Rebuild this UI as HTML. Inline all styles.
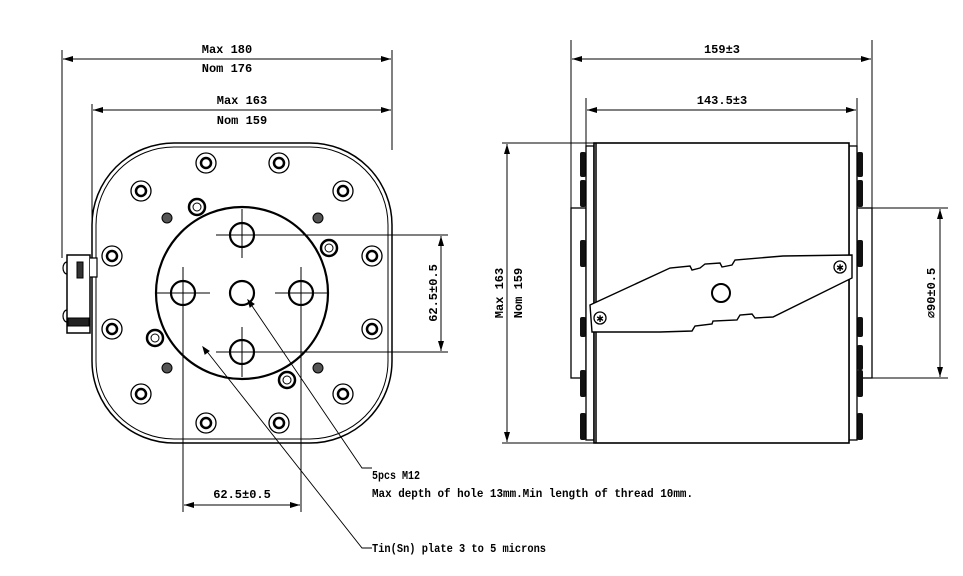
<!DOCTYPE html>
<html><head><meta charset="utf-8"><style>
html,body{margin:0;padding:0;background:#fff;}
svg{display:block;}
text{font-family:"Liberation Mono",monospace;font-size:12px;font-weight:bold;fill:#000;}
</style></head><body>
<svg width="963" height="576" viewBox="0 0 963 576" xmlns="http://www.w3.org/2000/svg">
<defs>
<marker id="a" viewBox="0 0 10 6" refX="10" refY="3" markerWidth="10" markerHeight="6" orient="auto-start-reverse" markerUnits="userSpaceOnUse"><path d="M0,0L10,3L0,6z" fill="#000"/></marker>
</defs>
<g stroke="#000" fill="none" stroke-width="1">
<line x1="62" y1="50" x2="62" y2="258"/>
<line x1="392" y1="50" x2="392" y2="150"/>
<line x1="63" y1="59" x2="391" y2="59" marker-start="url(#a)" marker-end="url(#a)"/>
<line x1="92" y1="104" x2="92" y2="255"/>
<line x1="93" y1="110" x2="391" y2="110" marker-start="url(#a)" marker-end="url(#a)"/>
<line x1="392" y1="104" x2="392" y2="110"/>
<line x1="216" y1="235" x2="448" y2="235"/>
<line x1="216" y1="352" x2="448" y2="352"/>
<line x1="441" y1="236" x2="441" y2="351" marker-start="url(#a)" marker-end="url(#a)"/>
<line x1="183" y1="267" x2="183" y2="512"/>
<line x1="301" y1="267" x2="301" y2="512"/>
<line x1="184" y1="505" x2="300" y2="505" marker-start="url(#a)" marker-end="url(#a)"/>
<line x1="242" y1="209" x2="242" y2="258"/>
<line x1="242" y1="327" x2="242" y2="377"/>
<line x1="155" y1="293" x2="210" y2="293"/>
<line x1="275" y1="293" x2="327" y2="293"/>
<rect x="92" y="143" width="300" height="300" rx="82" stroke-width="1.5"/>
<rect x="96" y="147" width="292" height="292" rx="78"/>
<circle cx="242" cy="293" r="86" stroke-width="2.2"/>
<g stroke-width="2.2">
<circle cx="242" cy="293" r="12"/><circle cx="242" cy="235" r="12"/><circle cx="242" cy="352" r="12"/><circle cx="183" cy="293" r="12"/><circle cx="301" cy="293" r="12"/>
</g>
<g stroke-width="1.3">
<circle cx="206" cy="163" r="10"/><circle cx="279" cy="163" r="10"/><circle cx="141" cy="191" r="10"/><circle cx="343" cy="191" r="10"/>
<circle cx="112" cy="256" r="10"/><circle cx="372" cy="256" r="10"/><circle cx="112" cy="329" r="10"/><circle cx="372" cy="329" r="10"/>
<circle cx="141" cy="394" r="10"/><circle cx="343" cy="394" r="10"/><circle cx="206" cy="423" r="10"/><circle cx="279" cy="423" r="10"/>
</g>
<g stroke-width="2.5">
<circle cx="206" cy="163" r="5"/><circle cx="279" cy="163" r="5"/><circle cx="141" cy="191" r="5"/><circle cx="343" cy="191" r="5"/>
<circle cx="112" cy="256" r="5"/><circle cx="372" cy="256" r="5"/><circle cx="112" cy="329" r="5"/><circle cx="372" cy="329" r="5"/>
<circle cx="141" cy="394" r="5"/><circle cx="343" cy="394" r="5"/><circle cx="206" cy="423" r="5"/><circle cx="279" cy="423" r="5"/>
</g>
<g stroke-width="2.5">
<circle cx="197" cy="207" r="8"/><circle cx="329" cy="248" r="8"/><circle cx="155" cy="338" r="8"/><circle cx="287" cy="380" r="8"/>
</g>
<g stroke-width="1">
<circle cx="197" cy="207" r="4"/><circle cx="329" cy="248" r="4"/><circle cx="155" cy="338" r="4"/><circle cx="287" cy="380" r="4"/>
</g>
<g fill="#555" stroke-width="1">
<circle cx="167" cy="218" r="5"/><circle cx="318" cy="218" r="5"/><circle cx="167" cy="368" r="5"/><circle cx="318" cy="368" r="5"/>
</g>
<rect x="67" y="255" width="23" height="78" fill="#fff" stroke-width="1.5"/>
<path d="M90 258 H97 V277 H90" stroke-width="1.2" fill="#fff"/>
<rect x="77" y="262" width="6" height="16" fill="#333"/>
<path d="M67 262 a4 6 0 0 0 0 12 M67 310 a4 6 0 0 0 0 12" stroke-width="1.2"/>
<rect x="68" y="318" width="21" height="8" fill="#222"/>
<path d="M248 300 L362 468 H372" stroke-width="0.9"/>
<path d="M248 300 l2 7 l4 -3z" fill="#000"/>
<path d="M205 349 L362 548 H372" stroke-width="0.9"/>
<path d="M203 347 l2 7 l4 -3z" fill="#000"/>

<line x1="571" y1="40" x2="571" y2="208"/>
<line x1="872" y1="40" x2="872" y2="208"/>
<line x1="572" y1="59" x2="871" y2="59" marker-start="url(#a)" marker-end="url(#a)"/>
<line x1="586" y1="98" x2="586" y2="147"/>
<line x1="857" y1="98" x2="857" y2="147"/>
<line x1="587" y1="110" x2="856" y2="110" marker-start="url(#a)" marker-end="url(#a)"/>
<line x1="502" y1="143" x2="594" y2="143"/>
<line x1="502" y1="443" x2="594" y2="443"/>
<line x1="507" y1="144" x2="507" y2="442" marker-start="url(#a)" marker-end="url(#a)"/>
<line x1="872" y1="208" x2="948" y2="208"/>
<line x1="872" y1="378" x2="948" y2="378"/>
<line x1="940" y1="209" x2="940" y2="377" marker-start="url(#a)" marker-end="url(#a)"/>
<rect x="571" y="208" width="15" height="170" stroke-width="1.3"/>
<rect x="857" y="208" width="15" height="170" stroke-width="1.3"/>
<g fill="#111" stroke="none">
<rect x="580" y="152" width="6" height="25" rx="2"/><rect x="580" y="180" width="6" height="27" rx="2"/><rect x="580" y="240" width="6" height="27" rx="2"/><rect x="580" y="317" width="6" height="20" rx="2"/><rect x="580" y="370" width="6" height="27" rx="2"/><rect x="580" y="413" width="6" height="27" rx="2"/>
<rect x="857" y="152" width="6" height="25" rx="2"/><rect x="857" y="180" width="6" height="27" rx="2"/><rect x="857" y="240" width="6" height="27" rx="2"/><rect x="857" y="317" width="6" height="20" rx="2"/><rect x="857" y="345" width="6" height="25" rx="2"/><rect x="857" y="370" width="6" height="27" rx="2"/><rect x="857" y="413" width="6" height="27" rx="2"/>
</g>
<rect x="586" y="146" width="8" height="294" stroke-width="1.3" fill="#fff"/>
<rect x="849" y="146" width="8" height="294" stroke-width="1.3" fill="#fff"/>
<rect x="594" y="143" width="255" height="300" stroke-width="1.6" fill="#fff"/>
<line x1="596" y1="143" x2="596" y2="443" stroke-width="1.5"/>
<path d="M590 305 L670 268 L690 266 L692 270 L700 268 L705 264 L720 263 L722 267 L732 265 L735 260 L783 256 L852 255 L852 278 L773 317 L755 318 L752 314 L740 315 L737 320 L713 321 L712 324 L695 326 L692 331 L660 332 L592 332 Z" stroke-width="1.4" fill="#fff"/>
<circle cx="600" cy="318" r="6" stroke-width="1.3"/>
<circle cx="840" cy="267" r="6" stroke-width="1.3"/>
<circle cx="721" cy="293" r="9" stroke-width="2"/>
</g>
<text x="600" y="322" font-size="9" text-anchor="middle">✱</text>
<text x="840" y="271" font-size="9" text-anchor="middle">✱</text>

<g text-anchor="middle">
<text x="227" y="53">Max 180</text>
<text x="227" y="72">Nom 176</text>
<text x="242" y="104">Max 163</text>
<text x="242" y="124">Nom 159</text>
<text x="242" y="498">62.5±0.5</text>
<text x="722" y="53">159±3</text>
<text x="722" y="104">143.5±3</text>
<text transform="translate(441,293) rotate(-90)" y="-4">62.5±0.5</text>
<text transform="translate(503,293) rotate(-90)">Max 163</text>
<text transform="translate(522,293) rotate(-90)">Nom 159</text>
<text transform="translate(935,293) rotate(-90)">⌀90±0.5</text>
</g>
<text x="372" y="479" textLength="48" lengthAdjust="spacingAndGlyphs">5pcs M12</text>
<text x="372" y="497" textLength="321" lengthAdjust="spacingAndGlyphs">Max depth of hole 13mm.Min length of thread 10mm.</text>
<text x="372" y="552" textLength="174" lengthAdjust="spacingAndGlyphs">Tin(Sn) plate 3 to 5 microns</text>
</svg>
</body></html>
